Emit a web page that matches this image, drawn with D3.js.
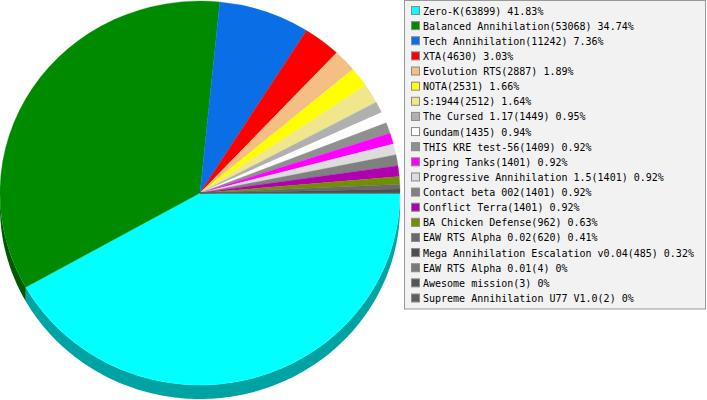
<!DOCTYPE html>
<html>
<head>
<meta charset="utf-8">
<script src="https://cdn.jsdelivr.net/npm/d3@7/dist/d3.min.js"></script>
<style>
  body { margin: 0; background: #fff; }
  svg { display: block; }
  .legend text { font-family: "DejaVu Sans Mono", monospace; font-size: 10px; fill: #000; }
</style>
</head>
<body>
<svg id="chart" width="707" height="400"></svg>
<script>
// data
const names = [
  'Zero-K', 'Balanced Annihilation', 'Tech Annihilation', 'XTA', 'Evolution RTS',
  'NOTA', 'S:1944', 'The Cursed 1.17', 'Gundam', 'THIS KRE test-56',
  'Spring Tanks', 'Progressive Annihilation 1.5', 'Contact beta 002', 'Conflict Terra',
  'BA Chicken Defense', 'EAW RTS Alpha 0.02', 'Mega Annihilation Escalation v0.04',
  'EAW RTS Alpha 0.01', 'Awesome mission', 'Supreme Annihilation U77 V1.0'
];
const counts = [
  63899, 53068, 11242, 4630, 2887,
  2531, 2512, 1449, 1435, 1409,
  1401, 1401, 1401, 1401,
  962, 620, 485,
  4, 3, 2
];
const colors = [
  '#00ffff', '#008a00', '#0a6fe6', '#ff0000', '#f5be84',
  '#ffff00', '#f0e68c', '#b0b0b0', '#ffffff', '#909090',
  '#ff00ff', '#dcdcdc', '#808080', '#b000b0',
  '#709000', '#6a6a6a', '#4e4e4e',
  '#7a7a7a', '#555555', '#5e5e5e'
];

const svg = d3.select('#chart');
const cx = 200, cy = 193, rx = 200, ry = 192, depth = 14;

const items = names.map((n, i) => ({ name: n, value: counts[i], color: colors[i] }));
const total = d3.sum(counts);

// start at 3 o'clock, going clockwise
const pie = d3.pie().sort(null).value(d => d.value)
  .startAngle(Math.PI / 2).endAngle(Math.PI / 2 + 2 * Math.PI);
const arcs = pie(items);

const pt = (a, dy) => [cx + rx * Math.sin(a), cy - ry * Math.cos(a) + (dy || 0)];

// side wall, only the front half is visible
const sides = svg.append('g').attr('class', 'sides');
arcs.forEach(d => {
  let a0 = Math.max(d.startAngle, Math.PI / 2);
  let a1 = Math.min(d.endAngle, 3 * Math.PI / 2);
  if (a1 <= a0) return;
  const steps = Math.max(2, Math.ceil((a1 - a0) * 60));
  const top = d3.range(steps + 1).map(k => pt(a0 + (a1 - a0) * k / steps));
  const bot = top.slice().reverse().map(p => [p[0], p[1] + depth]);
  const c = d3.rgb(d.data.color);
  sides.append('path')
    .attr('d', d3.line()(top.concat(bot)) + 'Z')
    .attr('fill', d3.rgb(c.r * 0.64, c.g * 0.64, c.b * 0.64));
});

// top face
const arc = d3.arc().innerRadius(0).outerRadius(rx);
svg.append('g')
  .attr('transform', `translate(${cx},${cy}) scale(1,${ry / rx})`)
  .selectAll('path').data(arcs).enter().append('path')
  .attr('d', arc)
  .attr('fill', d => d.data.color)
  .attr('stroke', d => d.data.color)
  .attr('stroke-width', 0.3);

// legend
const rowY = d3.scaleLinear().domain([0, names.length - 1]).range([11, 298.5]);
const legend = svg.append('g').attr('class', 'legend');
legend.append('rect')
  .attr('x', 404.5).attr('y', 0.5)
  .attr('width', 301).attr('height', 308.5)
  .attr('fill', '#f2f2f2').attr('stroke', '#999');

const rows = legend.selectAll('g.row').data(items).enter().append('g')
  .attr('class', 'row')
  .attr('transform', (d, i) => `translate(0,${rowY(i)})`);
rows.append('rect')
  .attr('x', 411.5).attr('y', -4.5)
  .attr('width', 8).attr('height', 8)
  .attr('fill', d => d.color).attr('stroke', '#8a8a8a');
rows.append('text')
  .attr('x', 423).attr('y', 0)
  .attr('dy', '0.35em')
  .text(d => `${d.name}(${d.value}) ${+(d.value / total * 100).toFixed(2)}%`);
</script>
</body>
</html>
